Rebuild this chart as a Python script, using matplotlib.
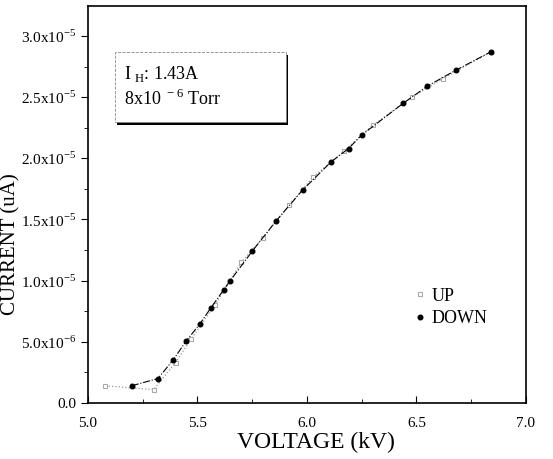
import matplotlib
matplotlib.use('Agg')
import matplotlib.pyplot as plt
from matplotlib.ticker import MultipleLocator, FuncFormatter
from matplotlib.patches import Rectangle
from matplotlib.lines import Line2D

plt.rcParams['font.family'] = ['Liberation Serif', 'DejaVu Serif']
plt.rcParams['mathtext.fontset'] = 'custom'
plt.rcParams['mathtext.rm'] = 'Liberation Serif'

# DOWN sweep (filled dots)
down_v = [5.20, 5.32, 5.39, 5.45, 5.51, 5.56, 5.62, 5.65, 5.75, 5.86, 5.98,
          6.11, 6.19, 6.25, 6.44, 6.55, 6.68, 6.84]
down_i = [1.41e-6, 2.0e-6, 3.54e-6, 5.1e-6, 6.43e-6, 7.74e-6, 9.26e-6, 1.0e-5,
          1.24e-5, 1.49e-5, 1.74e-5, 1.97e-5, 2.08e-5, 2.19e-5, 2.45e-5,
          2.59e-5, 2.72e-5, 2.87e-5]

# UP sweep (open squares, faint)
up_v = [5.08, 5.30, 5.40, 5.47, 5.58, 5.70, 5.80, 5.92, 6.03, 6.17, 6.30,
        6.48, 6.62, 6.84]
up_i = [1.4e-6, 1.1e-6, 3.3e-6, 5.2e-6, 8.0e-6, 1.15e-5, 1.35e-5, 1.62e-5,
        1.85e-5, 2.06e-5, 2.27e-5, 2.5e-5, 2.65e-5, 2.87e-5]

fig = plt.figure(figsize=(5.53, 4.59), dpi=100)
ax = fig.add_axes([0.159, 0.122, 0.792, 0.865])

ax.plot(up_v, up_i, color='#999999', ls=':', lw=0.9, marker='s', ms=3,
        mfc='white', mec='#aaaaaa', mew=0.8)
ax.plot(down_v, down_i, color='black', ls='-.', lw=0.8, marker='o', ms=3.3,
        mfc='black', mec='black')

ax.set_xlim(5.0, 7.0)
ax.set_ylim(0, 3.245e-5)
ax.xaxis.set_major_locator(MultipleLocator(0.5))
ax.xaxis.set_minor_locator(MultipleLocator(0.25))
ax.yaxis.set_major_locator(MultipleLocator(5e-6))
ax.yaxis.set_minor_locator(MultipleLocator(2.5e-6))


def yfmt(v, pos):
    if abs(v) < 1e-12:
        return '0.0'
    if v >= 1e-5 - 1e-12:
        return '%.1fx10$^{-5}$' % (v / 1e-5)
    return '%.1fx10$^{-6}$' % (v / 1e-6)


ax.yaxis.set_major_formatter(FuncFormatter(yfmt))
ax.xaxis.set_major_formatter(FuncFormatter(lambda v, p: '%.1f' % v))
ax.tick_params(axis='x', which='both', direction='in', labelsize=11, pad=10)
ax.tick_params(axis='x', which='major', length=5)
ax.tick_params(axis='x', which='minor', length=3)
ax.tick_params(axis='y', which='both', direction='out', labelsize=11)
ax.tick_params(axis='y', which='major', length=5)
ax.tick_params(axis='y', which='minor', length=3)
ax.tick_params(top=False, right=False)
for s in ax.spines.values():
    s.set_linewidth(1.2)

ax.set_xlabel('VOLTAGE (kV)', fontsize=17)
ax.set_ylabel('CURRENT (uA)', fontsize=15)
ax.xaxis.set_label_coords(0.52, -0.072)
ax.yaxis.set_label_coords(-0.155, 0.4)

# info box with shadow
bx0, by0, bw, bh = 5.123, 2.30e-5, 0.78, 0.57e-5
ax.add_patch(Rectangle((bx0 + 0.012, by0 - 0.025e-5), bw, bh, facecolor='black',
                       edgecolor='none', zorder=3))
ax.add_patch(Rectangle((bx0, by0), bw, bh, facecolor='white',
                       edgecolor='#888888', lw=0.6, ls='--', zorder=4))
ax.text(bx0 + 0.04, 2.69e-5, 'I$_{\\rm\\ H}$: 1.43A', fontsize=13, va='center',
        zorder=5)
ax.text(bx0 + 0.04, 2.485e-5, '8x10$^{\\rm\\ -6}$ Torr', fontsize=13,
        va='center', zorder=5)

handles = [Line2D([], [], ls='none', marker='s', ms=3, mfc='white',
                  mec='#aaaaaa', mew=0.8),
           Line2D([], [], ls='none', marker='o', ms=3.3, color='black')]
ax.legend(handles, ['UP', 'DOWN'], loc='lower right',
          bbox_to_anchor=(0.95, 0.15), frameon=False, fontsize=13,
          handlelength=0.5, handletextpad=0.4, labelspacing=0.3)

fig.savefig('out.png', dpi=100)
